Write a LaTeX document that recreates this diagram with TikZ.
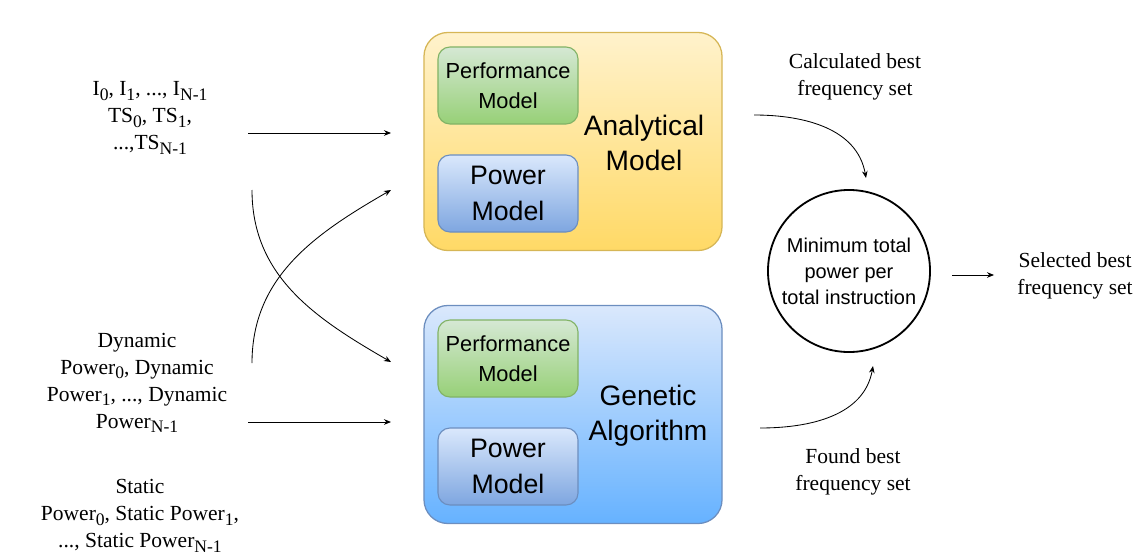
\documentclass[tikz,border=0pt]{standalone}
\usepackage{fontspec}
\setmainfont{Liberation Serif}
\setsansfont{Liberation Sans}
\usepackage{tikz}
\usetikzlibrary{arrows.meta, positioning, calc}
\usepackage{xcolor}
\definecolor{yelTop}{HTML}{FFF2CC}
\definecolor{yelBot}{HTML}{FFD966}
\definecolor{yelLine}{HTML}{D6B656}
\definecolor{grnTop}{HTML}{D5E8D4}
\definecolor{grnBot}{HTML}{97D077}
\definecolor{grnLine}{HTML}{82B366}
\definecolor{bluTop}{HTML}{DAE8FC}
\definecolor{bluBot}{HTML}{7EA6E0}
\definecolor{bluLine}{HTML}{6C8EBF}
\definecolor{skyBot}{HTML}{66B2FF}
\newcommand{\lowidx}[1]{\raisebox{-0.45ex}{\fontsize{12.5}{12.5}\selectfont #1}}
\tikzset{
    outerbox/.style={rectangle, rounded corners=0.6cm, line width=0.9pt, minimum width=7.45cm, minimum height=5.45cm},
    innerbox/.style={rectangle, rounded corners=0.3cm, line width=0.8pt, minimum width=3.5cm, minimum height=1.925cm, align=center, font=\sffamily},
    perfbox/.style={innerbox, draw=grnLine, top color=grnTop, bottom color=grnBot, font=\sffamily\fontsize{15.5}{21}\selectfont},
    powbox/.style={innerbox, draw=bluLine, top color=bluTop, bottom color=bluBot, font=\sffamily\fontsize{19}{25}\selectfont},
    boxlabel/.style={align=center, font=\sffamily\fontsize{20}{25}\selectfont},
    datalabel/.style={align=center, font=\fontsize{15.3}{19.2}\selectfont},
    decide/.style={circle, draw, line width=1.3pt, minimum size=4.05cm, align=center, inner sep=0pt, font=\sffamily\fontsize{14.2}{18.4}\selectfont},
    arrow/.style={line width=0.6pt, -{Stealth[length=5pt, width=4pt]}}
}
\begin{document}
\begin{tikzpicture}[x=0.025cm, y=-0.025cm]
    \useasboundingbox (0,0) rectangle (1143,558);

    \node[outerbox, draw=yelLine, top color=yelTop, bottom color=yelBot] (am) at (573,141.5) {};
    \node[perfbox] (amPerf) at (508,85.5) {Performance\\Model};
    \node[powbox] (amPow) at (508,193.5) {Power\\Model};
    \node[boxlabel] (amText) at (644,143) {Analytical\\Model};

    \node[outerbox, draw=bluLine, top color=bluTop, bottom color=skyBot] (ga) at (573,414.5) {};
    \node[perfbox] (gaPerf) at (508,358.5) {Performance\\Model};
    \node[powbox] (gaPow) at (508,466.5) {Power\\Model};
    \node[boxlabel] (gaText) at (648,416) {Genetic\\Algorithm};

    \node[decide] (minPow) at (849,271) {Minimum total\\power per\\total instruction};

    \node[datalabel] (instr) at (150,118) {I\lowidx{0}, I\lowidx{1}, ..., I\lowidx{N-1}\\TS\lowidx{0}, TS\lowidx{1},\\...,TS\lowidx{N-1}};
    \node[datalabel] (dynPow) at (137,383) {Dynamic\\Power\lowidx{0}, Dynamic\\Power\lowidx{1}, ..., Dynamic\\Power\lowidx{N-1}};
    \node[datalabel] (statPow) at (140,516) {Static\\Power\lowidx{0}, Static Power\lowidx{1},\\..., Static Power\lowidx{N-1}};
    \node[datalabel] (calcSet) at (855,77) {Calculated best\\frequency set};
    \node[datalabel] (foundSet) at (853,472) {Found best\\frequency set};
    \node[datalabel] (selSet) at (1075,276) {Selected best\\frequency set};

    \coordinate (instrOut) at (248,133);
    \coordinate (instrDown) at (252,190);
    \coordinate (dynUp) at (252,363);
    \coordinate (dynOut) at (248,422);
    \coordinate (amIn) at (391,190);
    \coordinate (gaIn) at (391,362);
    \coordinate (amOut) at (754,115);
    \coordinate (gaOut) at (760,428);
    \coordinate (minTop) at (866,178);
    \coordinate (minBot) at (873,366);
    \coordinate (minOut) at (952,275);
    \coordinate (selIn) at (994,275);

    \draw[arrow] (instrOut) -- (instrOut -| 391,0);
    \draw[arrow] (dynOut) -- (dynOut -| 391,0);
    \draw[arrow] (instrDown) to[out=-90, in=150] (gaIn);
    \draw[arrow] (dynUp) to[out=90, in=-150] (amIn);
    \draw[arrow] (amOut) to[out=0, in=100] (minTop);
    \draw[arrow] (gaOut) to[out=0, in=-100] (minBot);
    \draw[arrow] (minOut) -- (selIn);
\end{tikzpicture}
\end{document}
